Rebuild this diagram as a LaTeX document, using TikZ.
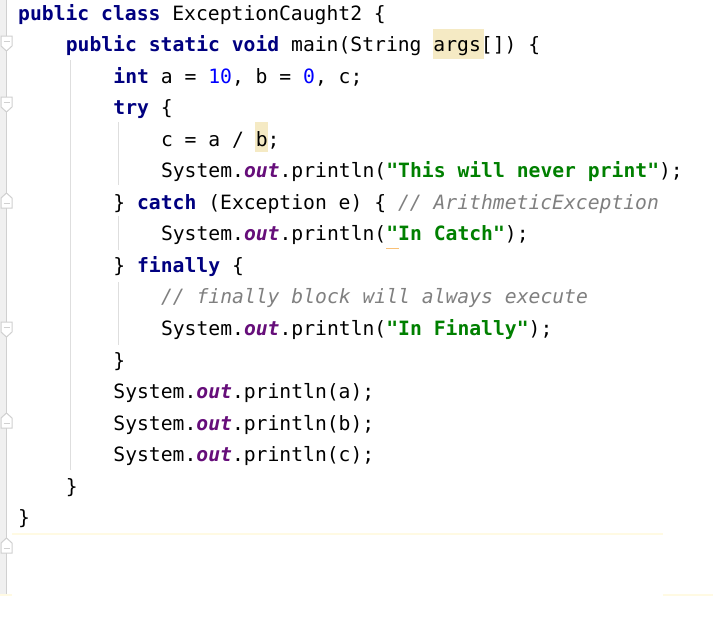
\documentclass[tikz,border=0pt]{standalone}
\usepackage{fontspec}
\setmonofont{DejaVu Sans Mono}
\definecolor{kw}{HTML}{000080}
\definecolor{num}{HTML}{0000FF}
\definecolor{str}{HTML}{008000}
\definecolor{fld}{HTML}{660E7A}
\definecolor{cmt}{HTML}{808080}
\definecolor{hl}{HTML}{F5EAC4}
\definecolor{gut}{HTML}{F0F0F0}
\definecolor{gl}{HTML}{D0D0D0}
\definecolor{cur}{HTML}{FFFAE3}
\newcommand{\K}[1]{\textcolor{kw}{\bfseries #1}}
\newcommand{\N}[1]{\textcolor{num}{#1}}
\newcommand{\St}[1]{\textcolor{str}{\bfseries #1}}
\newcommand{\F}[1]{\textcolor{fld}{\bfseries\itshape #1}}
\newcommand{\Cm}[1]{\textcolor{cmt}{\itshape #1}}
\begin{document}
\begin{tikzpicture}[x=1pt,y=-1pt,
  ln/.style={anchor=base west,inner sep=0pt,font=\ttfamily\fontsize{19.7}{20}\selectfont},
  fold/.style={draw=gl,fill=white,line width=1pt}]
\useasboundingbox (0,0) rectangle (713,625);
\fill[white] (0,0) rectangle (713,625);
\fill[gut] (0,0) rectangle (6,595);
\draw[gl,line width=1.2pt] (6.5,0) -- (6.5,595);
\draw[cur,line width=1.5pt] (12,534) -- (663,534);
\draw[cur,line width=1.5pt] (663,595) -- (713,595);
\draw[cur,line width=1.5pt] (0,595) -- (12,595);
% indent guides
\draw[gl!70,line width=1pt] (70,60) -- (70,470);
\draw[gl!70,line width=1pt] (118,122) -- (118,185);
\draw[gl!70,line width=1pt] (118,216) -- (118,250);
\draw[gl!70,line width=1pt] (118,282) -- (118,345);
% fold markers
\foreach \y in {44,105,330}{
  \draw[fold] (1,\y-8) -- (12,\y-8) -- (12,\y+2) -- (6.5,\y+7) -- (1,\y+2) -- cycle;
  \draw[gl,line width=1pt] (3.5,\y-3) -- (9.5,\y-3);}
\foreach \y in {200,420,545}{
  \draw[fold] (1,\y+8) -- (12,\y+8) -- (12,\y-2) -- (6.5,\y-7) -- (1,\y-2) -- cycle;
  \draw[gl,line width=1pt] (3.5,\y+3) -- (9.5,\y+3);}
% highlights
\fill[hl] (433,29) rectangle (484,59);
\fill[hl] (255,122) rectangle (268,152);
\draw[hl!60!orange,line width=1pt] (386,248) -- (399,248);
\def\lh{31.55}
\node[ln] (l1) at (18,20) {\K{public class} ExceptionCaught2 \{};
\node[ln] (l2) at (65.6,20+\lh) {\K{public static void} main(String args[]) \{};
\node[ln] (l3) at (113.2,20+2*\lh) {\K{int} a = \N{10}, b = \N{0}, c;};
\node[ln] (l4) at (113.2,20+3*\lh) {\K{try} \{};
\node[ln] (l5) at (160.8,20+4*\lh) {c = a / b;};
\node[ln] (l6) at (160.8,20+5*\lh) {System.\F{out}.println(\St{"This will never print"});};
\node[ln] (l7) at (113.2,20+6*\lh) {\} \K{catch} (Exception e) \{ \Cm{// ArithmeticException}};
\node[ln] (l8) at (160.8,20+7*\lh) {System.\F{out}.println(\St{"In Catch"});};
\node[ln] (l9) at (113.2,20+8*\lh) {\} \K{finally} \{};
\node[ln] (l10) at (160.8,20+9*\lh) {\Cm{// finally block will always execute}};
\node[ln] (l11) at (160.8,20+10*\lh) {System.\F{out}.println(\St{"In Finally"});};
\node[ln] (l12) at (113.2,20+11*\lh) {\}};
\node[ln] (l13) at (113.2,20+12*\lh) {System.\F{out}.println(a);};
\node[ln] (l14) at (113.2,20+13*\lh) {System.\F{out}.println(b);};
\node[ln] (l15) at (113.2,20+14*\lh) {System.\F{out}.println(c);};
\node[ln] (l16) at (65.6,20+15*\lh) {\}};
\node[ln] (l17) at (18,20+16*\lh) {\}};
\end{tikzpicture}
\end{document}
